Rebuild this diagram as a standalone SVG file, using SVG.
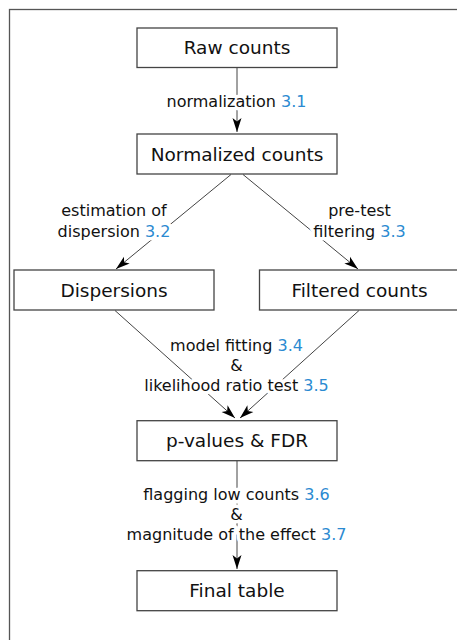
<svg xmlns="http://www.w3.org/2000/svg" width="457" height="640" viewBox="0 0 457 640">
<style>
.frame{fill:none;stroke:#555;stroke-width:1.3}
.box{fill:#fff;stroke:#444;stroke-width:1.3}
.ntext{font-family:"DejaVu Sans",sans-serif;font-size:18.5px;fill:#111;text-anchor:middle}
.edge{fill:none;stroke:#444;stroke-width:1}
.lbl{font-family:"DejaVu Sans",sans-serif;font-size:16px;fill:#111;text-anchor:middle;stroke:#fff;stroke-width:7;stroke-linejoin:round;paint-order:stroke}
.num{fill:#2b8ad1}
</style>
<defs>
<marker id="arr" viewBox="0 0 14 10" refX="14" refY="5" markerWidth="14" markerHeight="10" markerUnits="userSpaceOnUse" orient="auto">
<path d="M0,0.5 L14,5 L0,9.5 L3.5,5 z" fill="#000"/>
</marker>
</defs>
<rect class="frame" x="9.5" y="9.5" width="460" height="640"/>
<g id="connectors">
<line class="edge" x1="237" y1="67.5" x2="237" y2="132" marker-end="url(#arr)"/>
<line class="edge" x1="231" y1="174.5" x2="116" y2="269" marker-end="url(#arr)"/>
<line class="edge" x1="243" y1="174.5" x2="358" y2="269" marker-end="url(#arr)"/>
<line class="edge" x1="115" y1="310.5" x2="235" y2="418" marker-end="url(#arr)"/>
<line class="edge" x1="359" y1="310.5" x2="240" y2="418" marker-end="url(#arr)"/>
<line class="edge" x1="237" y1="461" x2="237" y2="569" marker-end="url(#arr)"/>
<text class="lbl" x="236.5" y="106.5">normalization <tspan class="num">3.1</tspan></text>
<text class="lbl" x="114" y="216">estimation of</text>
<text class="lbl" x="114" y="237">dispersion <tspan class="num">3.2</tspan></text>
<text class="lbl" x="359.5" y="216">pre-test</text>
<text class="lbl" x="359.5" y="237">filtering <tspan class="num">3.3</tspan></text>
<text class="lbl" x="236.5" y="351">model fitting <tspan class="num">3.4</tspan></text>
<text class="lbl" x="236.5" y="371">&amp;</text>
<text class="lbl" x="236.5" y="391">likelihood ratio test <tspan class="num">3.5</tspan></text>
<text class="lbl" x="236.5" y="500">flagging low counts <tspan class="num">3.6</tspan></text>
<text class="lbl" x="236.5" y="520">&amp;</text>
<text class="lbl" x="236.5" y="540">magnitude of the effect <tspan class="num">3.7</tspan></text>
</g>
<g id="raw"><rect class="box" x="137" y="28" width="200" height="39.5"/><text class="ntext" x="237" y="54.3">Raw counts</text></g>
<g id="normalized"><rect class="box" x="137" y="134" width="200" height="40"/><text class="ntext" x="237" y="160.7">Normalized counts</text></g>
<g id="dispersions"><rect class="box" x="14" y="270" width="200" height="40"/><text class="ntext" x="114" y="296.7">Dispersions</text></g>
<g id="filtered"><rect class="box" x="259.5" y="270" width="200" height="40"/><text class="ntext" x="359.5" y="296.7">Filtered counts</text></g>
<g id="pvalues"><rect class="box" x="137" y="420.7" width="200" height="40"/><text class="ntext" x="237" y="446.5">p-values &amp; FDR</text></g>
<g id="final"><rect class="box" x="137" y="570.7" width="200" height="40"/><text class="ntext" x="237" y="597">Final table</text></g>
</svg>
